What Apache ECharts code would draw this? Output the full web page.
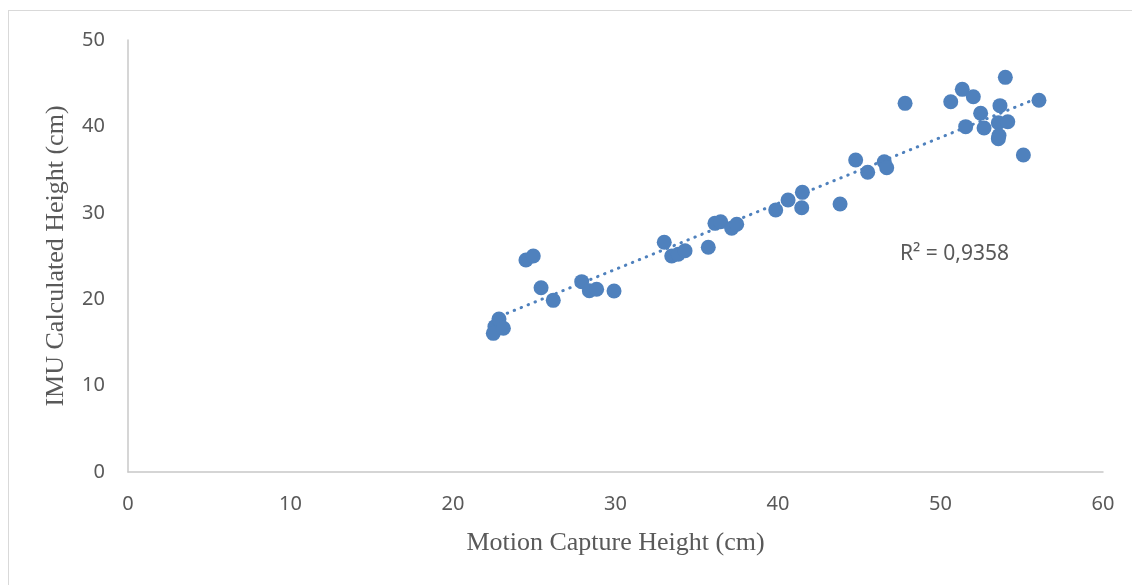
<!DOCTYPE html>
<html>
<head>
<meta charset="utf-8">
<script src="https://cdn.jsdelivr.net/npm/echarts@6/dist/echarts.min.js"></script>
<style>
html,body{margin:0;padding:0;background:#fff;}
#wrap{position:relative;width:1132px;height:585px;overflow:hidden;}
#frame{position:absolute;left:8px;top:10px;width:1200px;height:700px;border-left:1px solid #d9d9d9;border-top:1px solid #d9d9d9;}
#chart{position:absolute;left:0;top:0;width:1132px;height:585px;}
</style>
</head>
<body>
<div id="wrap"><div id="frame"></div><div id="chart"></div></div>
<script>
var xValues = [22.58,22.48,22.83,23.10,24.49,24.94,25.42,26.17,27.92,28.39,28.84,29.91,33.00,33.46,33.86,34.28,35.71,36.12,36.47,37.15,37.46,39.86,40.62,41.46,41.50,43.82,44.78,45.52,46.54,46.69,47.82,50.63,51.34,51.55,52.02,52.47,52.68,53.56,53.66,53.56,53.60,53.99,54.14,55.10,56.06];
var yValues = [16.82,16.05,17.71,16.63,24.54,25.00,21.33,19.87,22.03,20.98,21.15,20.95,26.59,25.00,25.20,25.61,26.01,28.78,28.97,28.21,28.67,30.32,31.48,30.59,32.37,31.02,36.11,34.69,35.91,35.22,42.67,42.86,44.29,39.97,43.44,41.52,39.81,40.43,42.40,38.58,38.95,45.68,40.54,36.69,43.02];
var xTicks = [0,10,20,30,40,50,60];
var yTicks = [0,10,20,30,40,50];
var r2Label = 'R² = 0,9358';

var pts = xValues.map(function(x,i){return [x,yValues[i]];});
// least squares trendline
var n = xValues.length, sx=0, sy=0, sxx=0, sxy=0;
for (var i=0;i<n;i++){sx+=xValues[i];sy+=yValues[i];sxx+=xValues[i]*xValues[i];sxy+=xValues[i]*yValues[i];}
var slope = (n*sxy - sx*sy)/(n*sxx - sx*sx);
var icpt = (sy - slope*sx)/n;
var xmin = Math.min.apply(null,xValues), xmax = Math.max.apply(null,xValues);
var trend = [[xmin, icpt+slope*xmin],[xmax, icpt+slope*xmax]];

var chart = echarts.init(document.getElementById('chart'));
var blue = '#4F81BD';
chart.setOption({
  animation:false,
  grid:{left:128,right:29,top:40,bottom:113},
  xAxis:{
    type:'value',min:xTicks[0],max:xTicks[xTicks.length-1],interval:10,
    name:'Motion Capture Height (cm)',nameLocation:'middle',nameGap:58,
    nameTextStyle:{fontFamily:'Liberation Serif',fontSize:26,color:'#595959'},
    axisLine:{show:true,lineStyle:{color:'#C8C8C8',width:1.5}},
    axisTick:{show:false},splitLine:{show:false},
    axisLabel:{margin:22,fontFamily:'Noto Sans',fontSize:20,color:'#595959'}
  },
  yAxis:{
    type:'value',min:yTicks[0],max:yTicks[yTicks.length-1],interval:10,
    name:'IMU Calculated Height (cm)',nameLocation:'middle',nameGap:59,
    nameTextStyle:{fontFamily:'Liberation Serif',fontSize:26,color:'#595959'},
    axisLine:{show:true,lineStyle:{color:'#C8C8C8',width:1.5}},
    axisTick:{show:false},splitLine:{show:false},
    axisLabel:{margin:23,fontFamily:'Noto Sans',fontSize:20,color:'#595959'}
  },
  graphic:[{type:'text',x:900,y:254,style:{text:r2Label,fontFamily:'Noto Sans',fontSize:21,fill:'#595959',verticalAlign:'middle',align:'left'}}],
  series:[
    {type:'line',data:trend,showSymbol:false,symbol:'none',z:1,
     lineStyle:{color:blue,width:3,type:[0.5,7],cap:'round'}},
    {type:'scatter',data:pts,symbol:'circle',symbolSize:15,z:2,
     itemStyle:{color:blue,opacity:1}}
  ]
});
</script>
</body>
</html>
